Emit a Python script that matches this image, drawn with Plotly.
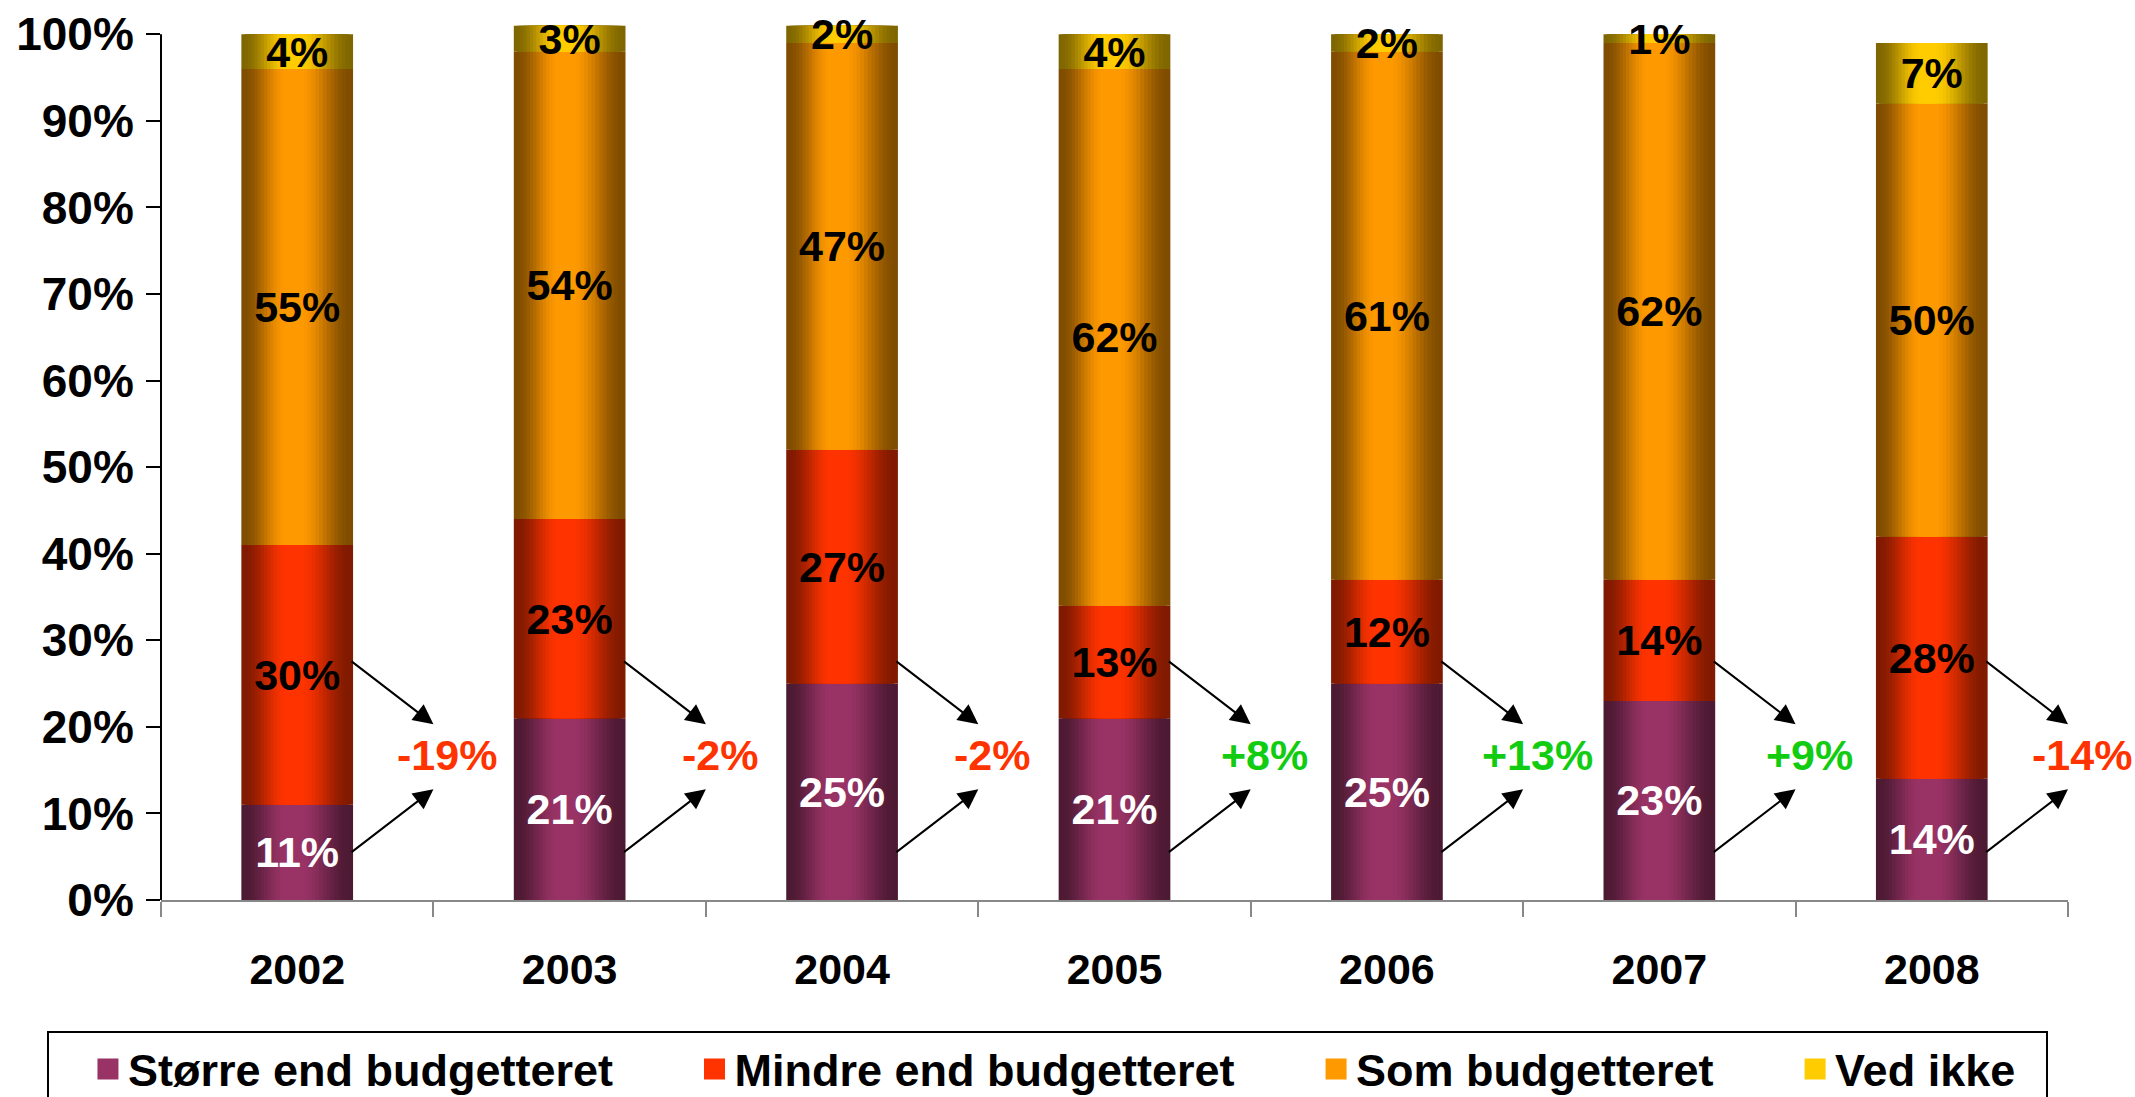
import plotly.graph_objects as go

# ---------------- data ----------------
years = ["2002", "2003", "2004", "2005", "2006", "2007", "2008"]
storre = [11, 21, 25, 21, 25, 23, 14]      # Større end budgetteret
mindre = [30, 23, 27, 13, 12, 14, 28]      # Mindre end budgetteret
som = [55, 54, 47, 62, 61, 62, 50]         # Som budgetteret
ved_ikke = [4, 3, 2, 4, 2, 1, 7]           # Ved ikke
change = [-19, -2, -2, 8, 13, 9, -14]      # net change (Større - Mindre)
y_ticks = [0, 10, 20, 30, 40, 50, 60, 70, 80, 90, 100]
y_tick_labels = [f"{v}%" for v in y_ticks]

series_names = ["Større end budgetteret", "Mindre end budgetteret",
                "Som budgetteret", "Ved ikke"]
series_values = [storre, mindre, som, ved_ikke]
series_colors = ["#993366", "#FF3300", "#FF9900", "#FFCC00"]
label_colors = ["white", "black", "black", "black"]

FONT = "Liberation Sans, Arial, sans-serif"
BAR_W = 0.41
N_SHADES = 16
PEAK = 0.46
NBSP = "\u00a0"


def shade(hex_color, f):
    h = hex_color.lstrip("#")
    r, g, b = (int(h[i:i + 2], 16) for i in (0, 2, 4))
    return f"rgb({round(r * f)},{round(g * f)},{round(b * f)})"


def smooth(u):
    u = max(0.0, min(1.0, u))
    return u * u * (3 - 2 * u)


fig = go.Figure()

# stacked bases
bases = []
running = [0] * len(years)
for vals in series_values:
    bases.append(list(running))
    running = [a + b for a, b in zip(running, vals)]

# cylinder-like shading: nested bars, darker at the edges
for vals, base, col in zip(series_values, bases, series_colors):
    for k in range(N_SHADES):
        u = k / N_SHADES
        left = PEAK * u
        right = 1 - (1 - PEAK) * u
        fig.add_trace(go.Bar(
            x=years, y=vals, base=base,
            width=(right - left) * BAR_W,
            offset=-BAR_W / 2 + left * BAR_W,
            marker=dict(color=shade(col, 0.5 + 0.5 * smooth(u / 0.85)), line=dict(width=0)),
            showlegend=False, hoverinfo="skip", cliponaxis=False,
        ))

# value labels
for vals, base, tcol, name in zip(series_values, bases, label_colors, series_names):
    fig.add_trace(go.Bar(
        x=years, y=vals, base=base, width=BAR_W, offset=-BAR_W / 2,
        marker=dict(color="rgba(0,0,0,0)", line=dict(width=0)),
        text=[f"{v}%" for v in vals], textposition="inside",
        insidetextanchor="middle", textangle=0, constraintext="none",
        textfont=dict(family=FONT, size=43, color=tcol, weight="bold"),
        showlegend=False, name=name, cliponaxis=False,
        hovertemplate="%{x}: %{y}%<extra>" + name + "</extra>",
    ))

# legend entries
for i, (name, col) in enumerate(zip(series_names, series_colors)):
    pad = NBSP * 3 if i < len(series_names) - 1 else NBSP * 2
    fig.add_trace(go.Scatter(
        x=[None], y=[None], mode="markers", name=name + pad,
        marker=dict(symbol="square", size=16, color=col, line=dict(color=col, width=5)),
        hoverinfo="skip",
    ))

annotations = []
for i, c in enumerate(change):
    ccol = "#FF3300" if c < 0 else "#11CC11"
    annotations.append(dict(
        x=i + 0.5, y=16.7, xref="x", yref="y", xshift=14, text=f"{c:+d}%",
        showarrow=False, font=dict(family=FONT, size=43, color=ccol, weight="bold"),
    ))
    for tip_y, tail_y in ((20.3, 27.7), (12.8, 5.4)):
        annotations.append(dict(
            x=i + 0.5, y=tip_y, ax=i + 0.194, ay=tail_y,
            xref="x", yref="y", axref="x", ayref="y", text="",
            showarrow=True, arrowhead=2, arrowsize=2, arrowwidth=2, arrowcolor="black",
        ))

fig.update_layout(
    width=2135, height=1097,
    barmode="overlay",
    plot_bgcolor="white", paper_bgcolor="white",
    margin=dict(l=161, r=67, t=17, b=197, autoexpand=False),
    font=dict(family=FONT, color="black"),
    annotations=annotations,
    shapes=[dict(type="line", xref="paper", yref="y", x0=0, x1=0, y0=0, y1=100,
                 line=dict(color="black", width=2), layer="above")],
    showlegend=True,
    legend=dict(
        orientation="h", xref="paper", yref="paper",
        x=-0.0598, y=-0.1485, xanchor="left", yanchor="top",
        indentation=39,
        font=dict(family=FONT, size=45, color="black", weight="bold"),
        bordercolor="black", borderwidth=2, bgcolor="white",
    ),
    xaxis=dict(
        type="category", categoryorder="array", categoryarray=years,
        range=[-0.5, 6.5], tickson="boundaries", ticks="outside",
        ticklen=15, tickwidth=1.5, tickcolor="#888888",
        showline=True, linecolor="#888888", linewidth=1.5,
        showgrid=False, zeroline=False,
        tickfont=dict(family=FONT, size=43, color="black", weight="bold"),
        ticklabelstandoff=31, fixedrange=True,
    ),
    yaxis=dict(
        range=[0, 102], tickvals=y_ticks, ticktext=y_tick_labels,
        ticks="outside", ticklen=14, tickwidth=2, tickcolor="black",
        showline=False, showgrid=False, zeroline=False,
        tickfont=dict(family=FONT, size=46, color="black", weight="bold"),
        ticklabelstandoff=3, fixedrange=True,
    ),
)

fig.write_html("out.html")
